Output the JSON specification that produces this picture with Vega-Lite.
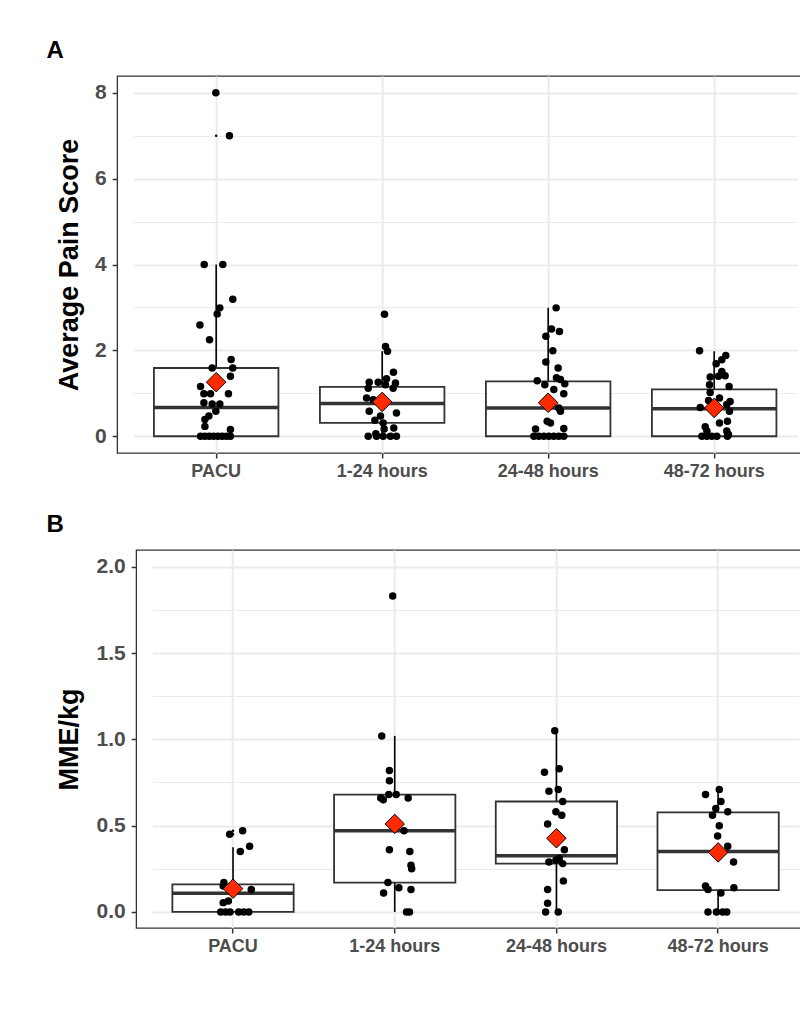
{
  "$schema": "https://vega.github.io/schema/vega-lite/v6.json",
  "background": "white",
  "padding": {"left": 45, "top": 38, "right": 0, "bottom": 5},
  "spacing": 31,
  "center": true,
  "config": {
    "font": "Liberation Sans",
    "view": {"stroke": "#333333", "strokeWidth": 1.3},
    "axis": {
      "labelFont": "Liberation Sans", "labelFontSize": 18, "labelFontWeight": "bold", "labelColor": "#4D4D4D",
      "titleFont": "Liberation Sans", "titleFontSize": 27, "titleFontWeight": "bold", "titleColor": "#000000",
      "tickColor": "#333333", "tickWidth": 1.5, "tickSize": 5, "domain": false,
      "gridColor": "#EBEBEB"
    },
    "title": {"font": "Liberation Sans", "fontSize": 24, "fontWeight": "bold", "color": "#000000", "anchor": "start", "frame": "bounds"}
  },
  "datasets": {
    "boxes": [
      {"panel": "A", "period": "PACU", "lower": 0, "q1": 0, "median": 0.67, "q3": 1.59, "upper": 4.0, "mean": 1.26},
      {"panel": "A", "period": "1-24 hours", "lower": 0, "q1": 0.31, "median": 0.76, "q3": 1.15, "upper": 1.98, "mean": 0.80},
      {"panel": "A", "period": "24-48 hours", "lower": 0, "q1": 0, "median": 0.66, "q3": 1.28, "upper": 2.99, "mean": 0.78},
      {"panel": "A", "period": "48-72 hours", "lower": 0, "q1": 0, "median": 0.64, "q3": 1.09, "upper": 1.98, "mean": 0.66},
      {"panel": "B", "period": "PACU", "lower": 0, "q1": 0, "median": 0.108, "q3": 0.16, "upper": 0.375, "mean": 0.135},
      {"panel": "B", "period": "1-24 hours", "lower": 0, "q1": 0.17, "median": 0.47, "q3": 0.68, "upper": 1.02, "mean": 0.51},
      {"panel": "B", "period": "24-48 hours", "lower": 0, "q1": 0.28, "median": 0.325, "q3": 0.64, "upper": 1.05, "mean": 0.427},
      {"panel": "B", "period": "48-72 hours", "lower": 0, "q1": 0.127, "median": 0.35, "q3": 0.577, "upper": 0.71, "mean": 0.345}
    ],
    "outliers": [
      {"panel": "A", "period": "PACU", "value": 8.0},
      {"panel": "A", "period": "PACU", "value": 7.0},
      {"panel": "A", "period": "1-24 hours", "value": 2.84},
      {"panel": "B", "period": "PACU", "value": 0.45},
      {"panel": "B", "period": "PACU", "value": 0.47},
      {"panel": "B", "period": "1-24 hours", "value": 1.83}
    ],
    "points": [
      {"panel": "A", "period": "PACU", "value": 8.0, "jitter": -0.002},
      {"panel": "A", "period": "PACU", "value": 7.0, "jitter": 0.080},
      {"panel": "A", "period": "PACU", "value": 4.0, "jitter": -0.072},
      {"panel": "A", "period": "PACU", "value": 4.0, "jitter": 0.040},
      {"panel": "A", "period": "PACU", "value": 3.19, "jitter": 0.100},
      {"panel": "A", "period": "PACU", "value": 2.99, "jitter": 0.022},
      {"panel": "A", "period": "PACU", "value": 2.85, "jitter": 0.006},
      {"panel": "A", "period": "PACU", "value": 2.59, "jitter": -0.098},
      {"panel": "A", "period": "PACU", "value": 2.25, "jitter": -0.040},
      {"panel": "A", "period": "PACU", "value": 1.79, "jitter": 0.090},
      {"panel": "A", "period": "PACU", "value": 1.59, "jitter": -0.024},
      {"panel": "A", "period": "PACU", "value": 1.59, "jitter": 0.100},
      {"panel": "A", "period": "PACU", "value": 1.40, "jitter": 0.086},
      {"panel": "A", "period": "PACU", "value": 1.16, "jitter": -0.094},
      {"panel": "A", "period": "PACU", "value": 0.99, "jitter": -0.074},
      {"panel": "A", "period": "PACU", "value": 0.99, "jitter": -0.034},
      {"panel": "A", "period": "PACU", "value": 0.99, "jitter": 0.074},
      {"panel": "A", "period": "PACU", "value": 0.78, "jitter": -0.074},
      {"panel": "A", "period": "PACU", "value": 0.75, "jitter": -0.024},
      {"panel": "A", "period": "PACU", "value": 0.75, "jitter": 0.022},
      {"panel": "A", "period": "PACU", "value": 0.58, "jitter": -0.002},
      {"panel": "A", "period": "PACU", "value": 0.47, "jitter": -0.044},
      {"panel": "A", "period": "PACU", "value": 0.39, "jitter": -0.068},
      {"panel": "A", "period": "PACU", "value": 0.23, "jitter": -0.068},
      {"panel": "A", "period": "PACU", "value": 0.16, "jitter": 0.086},
      {"panel": "A", "period": "PACU", "value": 0, "jitter": -0.094},
      {"panel": "A", "period": "PACU", "value": 0, "jitter": -0.068},
      {"panel": "A", "period": "PACU", "value": 0, "jitter": -0.042},
      {"panel": "A", "period": "PACU", "value": 0, "jitter": -0.016},
      {"panel": "A", "period": "PACU", "value": 0, "jitter": 0.010},
      {"panel": "A", "period": "PACU", "value": 0, "jitter": 0.036},
      {"panel": "A", "period": "PACU", "value": 0, "jitter": 0.062},
      {"panel": "A", "period": "PACU", "value": 0, "jitter": 0.086},
      {"panel": "A", "period": "1-24 hours", "value": 2.84, "jitter": 0.014},
      {"panel": "A", "period": "1-24 hours", "value": 2.09, "jitter": 0.020},
      {"panel": "A", "period": "1-24 hours", "value": 1.98, "jitter": 0.032},
      {"panel": "A", "period": "1-24 hours", "value": 1.49, "jitter": 0.068},
      {"panel": "A", "period": "1-24 hours", "value": 1.34, "jitter": 0.026},
      {"panel": "A", "period": "1-24 hours", "value": 1.26, "jitter": -0.078},
      {"panel": "A", "period": "1-24 hours", "value": 1.26, "jitter": -0.024},
      {"panel": "A", "period": "1-24 hours", "value": 1.24, "jitter": 0.080},
      {"panel": "A", "period": "1-24 hours", "value": 1.20, "jitter": 0.020},
      {"panel": "A", "period": "1-24 hours", "value": 1.12, "jitter": 0.066},
      {"panel": "A", "period": "1-24 hours", "value": 1.12, "jitter": -0.084},
      {"panel": "A", "period": "1-24 hours", "value": 0.89, "jitter": -0.094},
      {"panel": "A", "period": "1-24 hours", "value": 0.85, "jitter": -0.054},
      {"panel": "A", "period": "1-24 hours", "value": 0.81, "jitter": 0.026},
      {"panel": "A", "period": "1-24 hours", "value": 0.58, "jitter": -0.078},
      {"panel": "A", "period": "1-24 hours", "value": 0.54, "jitter": 0.086},
      {"panel": "A", "period": "1-24 hours", "value": 0.47, "jitter": -0.010},
      {"panel": "A", "period": "1-24 hours", "value": 0.37, "jitter": -0.044},
      {"panel": "A", "period": "1-24 hours", "value": 0.31, "jitter": 0.006},
      {"panel": "A", "period": "1-24 hours", "value": 0.19, "jitter": 0.070},
      {"panel": "A", "period": "1-24 hours", "value": 0.17, "jitter": 0.012},
      {"panel": "A", "period": "1-24 hours", "value": 0.06, "jitter": -0.038},
      {"panel": "A", "period": "1-24 hours", "value": 0, "jitter": -0.084},
      {"panel": "A", "period": "1-24 hours", "value": 0, "jitter": -0.034},
      {"panel": "A", "period": "1-24 hours", "value": 0, "jitter": 0.006},
      {"panel": "A", "period": "1-24 hours", "value": 0, "jitter": 0.050},
      {"panel": "A", "period": "1-24 hours", "value": 0, "jitter": 0.086},
      {"panel": "A", "period": "24-48 hours", "value": 2.99, "jitter": 0.048},
      {"panel": "A", "period": "24-48 hours", "value": 2.50, "jitter": 0.020},
      {"panel": "A", "period": "24-48 hours", "value": 2.44, "jitter": 0.068},
      {"panel": "A", "period": "24-48 hours", "value": 2.33, "jitter": -0.014},
      {"panel": "A", "period": "24-48 hours", "value": 1.99, "jitter": 0.028},
      {"panel": "A", "period": "24-48 hours", "value": 1.73, "jitter": -0.014},
      {"panel": "A", "period": "24-48 hours", "value": 1.59, "jitter": 0.060},
      {"panel": "A", "period": "24-48 hours", "value": 1.36, "jitter": 0.050},
      {"panel": "A", "period": "24-48 hours", "value": 1.32, "jitter": 0.074},
      {"panel": "A", "period": "24-48 hours", "value": 1.29, "jitter": -0.066},
      {"panel": "A", "period": "24-48 hours", "value": 1.22, "jitter": 0.100},
      {"panel": "A", "period": "24-48 hours", "value": 1.20, "jitter": -0.020},
      {"panel": "A", "period": "24-48 hours", "value": 1.09, "jitter": 0.034},
      {"panel": "A", "period": "24-48 hours", "value": 0.99, "jitter": 0.094},
      {"panel": "A", "period": "24-48 hours", "value": 0.66, "jitter": 0.064},
      {"panel": "A", "period": "24-48 hours", "value": 0.58, "jitter": 0.074},
      {"panel": "A", "period": "24-48 hours", "value": 0.35, "jitter": -0.006},
      {"panel": "A", "period": "24-48 hours", "value": 0.31, "jitter": 0.014},
      {"panel": "A", "period": "24-48 hours", "value": 0.18, "jitter": 0.094},
      {"panel": "A", "period": "24-48 hours", "value": 0.17, "jitter": -0.076},
      {"panel": "A", "period": "24-48 hours", "value": 0, "jitter": -0.086},
      {"panel": "A", "period": "24-48 hours", "value": 0, "jitter": -0.056},
      {"panel": "A", "period": "24-48 hours", "value": 0, "jitter": -0.026},
      {"panel": "A", "period": "24-48 hours", "value": 0, "jitter": 0.004},
      {"panel": "A", "period": "24-48 hours", "value": 0, "jitter": 0.034},
      {"panel": "A", "period": "24-48 hours", "value": 0, "jitter": 0.064},
      {"panel": "A", "period": "24-48 hours", "value": 0, "jitter": 0.094},
      {"panel": "A", "period": "48-72 hours", "value": 1.99, "jitter": -0.088},
      {"panel": "A", "period": "48-72 hours", "value": 1.88, "jitter": 0.070},
      {"panel": "A", "period": "48-72 hours", "value": 1.78, "jitter": 0.046},
      {"panel": "A", "period": "48-72 hours", "value": 1.69, "jitter": 0.012},
      {"panel": "A", "period": "48-72 hours", "value": 1.51, "jitter": 0.046},
      {"panel": "A", "period": "48-72 hours", "value": 1.41, "jitter": 0.066},
      {"panel": "A", "period": "48-72 hours", "value": 1.40, "jitter": 0.026},
      {"panel": "A", "period": "48-72 hours", "value": 1.38, "jitter": -0.024},
      {"panel": "A", "period": "48-72 hours", "value": 1.20, "jitter": -0.028},
      {"panel": "A", "period": "48-72 hours", "value": 1.16, "jitter": 0.090},
      {"panel": "A", "period": "48-72 hours", "value": 1.02, "jitter": -0.024},
      {"panel": "A", "period": "48-72 hours", "value": 0.89, "jitter": 0.032},
      {"panel": "A", "period": "48-72 hours", "value": 0.83, "jitter": -0.034},
      {"panel": "A", "period": "48-72 hours", "value": 0.81, "jitter": 0.096},
      {"panel": "A", "period": "48-72 hours", "value": 0.74, "jitter": 0.076},
      {"panel": "A", "period": "48-72 hours", "value": 0.67, "jitter": -0.084},
      {"panel": "A", "period": "48-72 hours", "value": 0.58, "jitter": 0.092},
      {"panel": "A", "period": "48-72 hours", "value": 0.35, "jitter": 0.080},
      {"panel": "A", "period": "48-72 hours", "value": 0.31, "jitter": 0.032},
      {"panel": "A", "period": "48-72 hours", "value": 0.22, "jitter": -0.054},
      {"panel": "A", "period": "48-72 hours", "value": 0.12, "jitter": -0.044},
      {"panel": "A", "period": "48-72 hours", "value": 0.12, "jitter": 0.076},
      {"panel": "A", "period": "48-72 hours", "value": 0.04, "jitter": 0.086},
      {"panel": "A", "period": "48-72 hours", "value": 0, "jitter": -0.074},
      {"panel": "A", "period": "48-72 hours", "value": 0, "jitter": -0.044},
      {"panel": "A", "period": "48-72 hours", "value": 0, "jitter": -0.014},
      {"panel": "A", "period": "48-72 hours", "value": 0, "jitter": 0.016},
      {"panel": "A", "period": "48-72 hours", "value": 0, "jitter": 0.080},
      {"panel": "B", "period": "PACU", "value": 0.47, "jitter": 0.045},
      {"panel": "B", "period": "PACU", "value": 0.45, "jitter": -0.033},
      {"panel": "B", "period": "PACU", "value": 0.38, "jitter": 0.087},
      {"panel": "B", "period": "PACU", "value": 0.35, "jitter": 0.031},
      {"panel": "B", "period": "PACU", "value": 0.17, "jitter": -0.068},
      {"panel": "B", "period": "PACU", "value": 0.15, "jitter": -0.072},
      {"panel": "B", "period": "PACU", "value": 0.13, "jitter": 0.097},
      {"panel": "B", "period": "PACU", "value": 0.064, "jitter": -0.041},
      {"panel": "B", "period": "PACU", "value": 0.054, "jitter": -0.072},
      {"panel": "B", "period": "PACU", "value": 0, "jitter": -0.087},
      {"panel": "B", "period": "PACU", "value": 0, "jitter": -0.058},
      {"panel": "B", "period": "PACU", "value": 0, "jitter": -0.031},
      {"panel": "B", "period": "PACU", "value": 0, "jitter": 0.021},
      {"panel": "B", "period": "PACU", "value": 0, "jitter": 0.052},
      {"panel": "B", "period": "PACU", "value": 0, "jitter": 0.082},
      {"panel": "B", "period": "1-24 hours", "value": 1.83, "jitter": -0.025},
      {"panel": "B", "period": "1-24 hours", "value": 1.02, "jitter": -0.091},
      {"panel": "B", "period": "1-24 hours", "value": 0.82, "jitter": -0.045},
      {"panel": "B", "period": "1-24 hours", "value": 0.76, "jitter": -0.045},
      {"panel": "B", "period": "1-24 hours", "value": 0.68, "jitter": -0.049},
      {"panel": "B", "period": "1-24 hours", "value": 0.68, "jitter": -0.004},
      {"panel": "B", "period": "1-24 hours", "value": 0.66, "jitter": -0.097},
      {"panel": "B", "period": "1-24 hours", "value": 0.65, "jitter": -0.082},
      {"panel": "B", "period": "1-24 hours", "value": 0.66, "jitter": 0.068},
      {"panel": "B", "period": "1-24 hours", "value": 0.47, "jitter": 0.043},
      {"panel": "B", "period": "1-24 hours", "value": 0.36, "jitter": -0.045},
      {"panel": "B", "period": "1-24 hours", "value": 0.35, "jitter": 0.078},
      {"panel": "B", "period": "1-24 hours", "value": 0.27, "jitter": 0.085},
      {"panel": "B", "period": "1-24 hours", "value": 0.25, "jitter": 0.089},
      {"panel": "B", "period": "1-24 hours", "value": 0.17, "jitter": -0.054},
      {"panel": "B", "period": "1-24 hours", "value": 0.14, "jitter": 0.012},
      {"panel": "B", "period": "1-24 hours", "value": 0.13, "jitter": 0.085},
      {"panel": "B", "period": "1-24 hours", "value": 0.11, "jitter": -0.080},
      {"panel": "B", "period": "1-24 hours", "value": 0, "jitter": 0.058},
      {"panel": "B", "period": "1-24 hours", "value": 0, "jitter": 0.076},
      {"panel": "B", "period": "24-48 hours", "value": 1.05, "jitter": -0.023},
      {"panel": "B", "period": "24-48 hours", "value": 0.83, "jitter": 0.004},
      {"panel": "B", "period": "24-48 hours", "value": 0.81, "jitter": -0.085},
      {"panel": "B", "period": "24-48 hours", "value": 0.71, "jitter": -0.002},
      {"panel": "B", "period": "24-48 hours", "value": 0.70, "jitter": -0.058},
      {"panel": "B", "period": "24-48 hours", "value": 0.64, "jitter": 0.025},
      {"panel": "B", "period": "24-48 hours", "value": 0.58, "jitter": -0.016},
      {"panel": "B", "period": "24-48 hours", "value": 0.56, "jitter": 0.019},
      {"panel": "B", "period": "24-48 hours", "value": 0.51, "jitter": -0.066},
      {"panel": "B", "period": "24-48 hours", "value": 0.36, "jitter": 0.035},
      {"panel": "B", "period": "24-48 hours", "value": 0.31, "jitter": 0.004},
      {"panel": "B", "period": "24-48 hours", "value": 0.30, "jitter": -0.016},
      {"panel": "B", "period": "24-48 hours", "value": 0.29, "jitter": -0.058},
      {"panel": "B", "period": "24-48 hours", "value": 0.28, "jitter": 0.025},
      {"panel": "B", "period": "24-48 hours", "value": 0.18, "jitter": 0.029},
      {"panel": "B", "period": "24-48 hours", "value": 0.13, "jitter": -0.066},
      {"panel": "B", "period": "24-48 hours", "value": 0.05, "jitter": -0.066},
      {"panel": "B", "period": "24-48 hours", "value": 0, "jitter": -0.078},
      {"panel": "B", "period": "24-48 hours", "value": 0, "jitter": -0.002},
      {"panel": "B", "period": "48-72 hours", "value": 0.71, "jitter": -0.006},
      {"panel": "B", "period": "48-72 hours", "value": 0.68, "jitter": -0.089},
      {"panel": "B", "period": "48-72 hours", "value": 0.64, "jitter": 0.004},
      {"panel": "B", "period": "48-72 hours", "value": 0.60, "jitter": -0.027},
      {"panel": "B", "period": "48-72 hours", "value": 0.56, "jitter": -0.047},
      {"panel": "B", "period": "48-72 hours", "value": 0.58, "jitter": 0.045},
      {"panel": "B", "period": "48-72 hours", "value": 0.50, "jitter": -0.006},
      {"panel": "B", "period": "48-72 hours", "value": 0.44, "jitter": -0.016},
      {"panel": "B", "period": "48-72 hours", "value": 0.38, "jitter": 0.045},
      {"panel": "B", "period": "48-72 hours", "value": 0.29, "jitter": 0.080},
      {"panel": "B", "period": "48-72 hours", "value": 0.15, "jitter": -0.089},
      {"panel": "B", "period": "48-72 hours", "value": 0.13, "jitter": -0.074},
      {"panel": "B", "period": "48-72 hours", "value": 0.14, "jitter": 0.082},
      {"panel": "B", "period": "48-72 hours", "value": 0.11, "jitter": 0.004},
      {"panel": "B", "period": "48-72 hours", "value": 0, "jitter": -0.074},
      {"panel": "B", "period": "48-72 hours", "value": 0, "jitter": -0.023},
      {"panel": "B", "period": "48-72 hours", "value": 0, "jitter": 0.014},
      {"panel": "B", "period": "48-72 hours", "value": 0, "jitter": 0.039}
    ]
  },
  "vconcat": [
    {
      "title": {"text": "A", "dx": -9, "offset": 13},
      "width": 705,
      "height": 377,
      "encoding": {
        "x": {"field": "period", "type": "nominal", "sort": ["PACU", "1-24 hours", "24-48 hours", "48-72 hours"],
              "scale": {"type": "band", "range": [16, 680], "paddingInner": 0, "paddingOuter": 0},
              "axis": {"title": null, "labelAngle": 0, "labelPadding": 4, "grid": true, "gridWidth": 2}}
      },
      "layer": [
        {
          "data": {"name": "boxes"},
          "transform": [{"filter": "datum.panel === 'A'"}],
          "mark": {"type": "rule", "color": "#000000", "strokeWidth": 1.6},
          "encoding": {
            "y": {"field": "lower", "type": "quantitative",
                  "scale": {"domain": [-0.39, 8.39], "nice": false, "zero": false},
                  "axis": {"title": "Average Pain Score", "titlePadding": 11, "labelPadding": 6, "labelFontSize": 21,
                           "values": [0, 1, 2, 3, 4, 5, 6, 7, 8],
                           "labelExpr": "datum.value % 2 === 0 ? datum.label : ''",
                           "tickOpacity": {"condition": {"test": "datum.value % 2 !== 0", "value": 0}, "value": 1},
                           "gridWidth": {"condition": {"test": "datum.value % 2 !== 0", "value": 1}, "value": 2}}},
            "y2": {"field": "upper"}
          }
        },
        {
          "data": {"name": "boxes"},
          "transform": [{"filter": "datum.panel === 'A'"}],
          "mark": {"type": "bar", "fill": "white", "stroke": "#333333", "strokeWidth": 1.8, "width": 124.5},
          "encoding": {"y": {"field": "q1", "type": "quantitative"}, "y2": {"field": "q3"}}
        },
        {
          "data": {"name": "boxes"},
          "transform": [{"filter": "datum.panel === 'A'"}],
          "mark": {"type": "tick", "orient": "horizontal", "color": "#333333", "thickness": 3.5, "size": 124.5, "opacity": 1},
          "encoding": {"y": {"field": "median", "type": "quantitative"}}
        },
        {
          "data": {"name": "outliers"},
          "transform": [{"filter": "datum.panel === 'A'"}],
          "mark": {"type": "circle", "color": "#000000", "size": 6, "opacity": 1},
          "encoding": {"y": {"field": "value", "type": "quantitative"}}
        },
        {
          "data": {"name": "points"},
          "transform": [{"filter": "datum.panel === 'A'"}],
          "mark": {"type": "circle", "color": "#000000", "size": 56, "opacity": 1},
          "encoding": {
            "y": {"field": "value", "type": "quantitative"},
            "xOffset": {"field": "jitter", "type": "quantitative", "scale": {"domain": [-0.5, 0.5], "range": [0, 166]}}
          }
        },
        {
          "data": {"name": "boxes"},
          "transform": [{"filter": "datum.panel === 'A'"}],
          "mark": {"type": "point", "shape": "diamond", "filled": true, "fill": "#FF2A00", "stroke": "#000000", "strokeWidth": 1, "size": 380, "opacity": 1},
          "encoding": {"y": {"field": "mean", "type": "quantitative"}}
        }
      ]
    },
    {
      "title": {"text": "B", "dx": -9, "offset": 13},
      "width": 667,
      "height": 378,
      "encoding": {
        "x": {"field": "period", "type": "nominal", "sort": ["PACU", "1-24 hours", "24-48 hours", "48-72 hours"],
              "scale": {"type": "band", "range": [16, 662.8], "paddingInner": 0, "paddingOuter": 0},
              "axis": {"title": null, "labelAngle": 0, "labelPadding": 4, "grid": true, "gridWidth": 2}}
      },
      "layer": [
        {
          "data": {"name": "boxes"},
          "transform": [{"filter": "datum.panel === 'B'"}],
          "mark": {"type": "rule", "color": "#000000", "strokeWidth": 1.6},
          "encoding": {
            "y": {"field": "lower", "type": "quantitative",
                  "scale": {"domain": [-0.093, 2.097], "nice": false, "zero": false},
                  "axis": {"title": "MME/kg", "titlePadding": 12.5, "labelPadding": 6, "labelFontSize": 21,
                           "values": [0, 0.25, 0.5, 0.75, 1, 1.25, 1.5, 1.75, 2],
                           "format": ".1f",
                           "labelExpr": "(datum.value * 4) % 2 === 0 ? datum.label : ''",
                           "tickOpacity": {"condition": {"test": "(datum.value * 4) % 2 !== 0", "value": 0}, "value": 1},
                           "gridWidth": {"condition": {"test": "(datum.value * 4) % 2 !== 0", "value": 1}, "value": 2}}},
            "y2": {"field": "upper"}
          }
        },
        {
          "data": {"name": "boxes"},
          "transform": [{"filter": "datum.panel === 'B'"}],
          "mark": {"type": "bar", "fill": "white", "stroke": "#333333", "strokeWidth": 1.8, "width": 121.3},
          "encoding": {"y": {"field": "q1", "type": "quantitative"}, "y2": {"field": "q3"}}
        },
        {
          "data": {"name": "boxes"},
          "transform": [{"filter": "datum.panel === 'B'"}],
          "mark": {"type": "tick", "orient": "horizontal", "color": "#333333", "thickness": 3.5, "size": 121.3, "opacity": 1},
          "encoding": {"y": {"field": "median", "type": "quantitative"}}
        },
        {
          "data": {"name": "outliers"},
          "transform": [{"filter": "datum.panel === 'B'"}],
          "mark": {"type": "circle", "color": "#000000", "size": 6, "opacity": 1},
          "encoding": {"y": {"field": "value", "type": "quantitative"}}
        },
        {
          "data": {"name": "points"},
          "transform": [{"filter": "datum.panel === 'B'"}],
          "mark": {"type": "circle", "color": "#000000", "size": 56, "opacity": 1},
          "encoding": {
            "y": {"field": "value", "type": "quantitative"},
            "xOffset": {"field": "jitter", "type": "quantitative", "scale": {"domain": [-0.5, 0.5], "range": [0, 161.7]}}
          }
        },
        {
          "data": {"name": "boxes"},
          "transform": [{"filter": "datum.panel === 'B'"}],
          "mark": {"type": "point", "shape": "diamond", "filled": true, "fill": "#FF2A00", "stroke": "#000000", "strokeWidth": 1, "size": 380, "opacity": 1},
          "encoding": {"y": {"field": "mean", "type": "quantitative"}}
        }
      ]
    }
  ]
}
